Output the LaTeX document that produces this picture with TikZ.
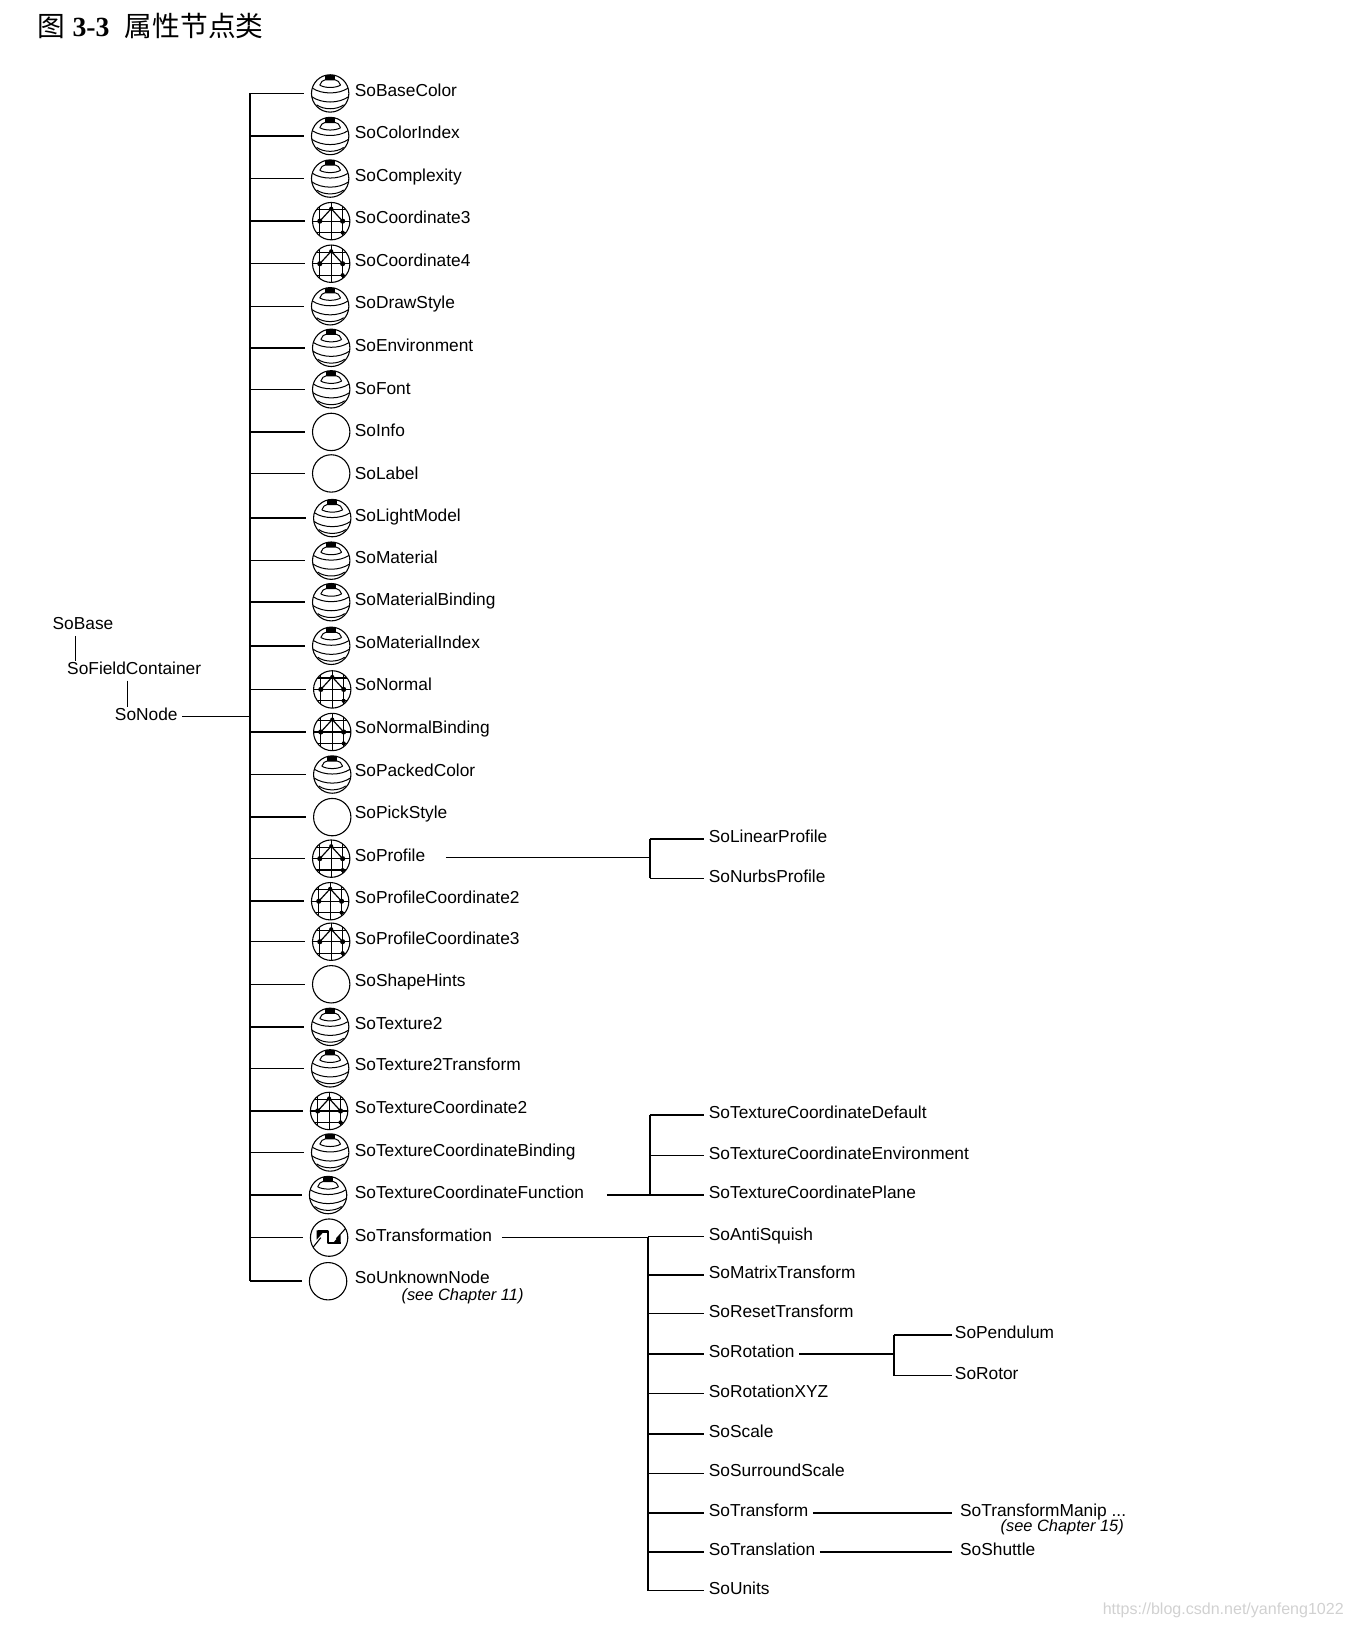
\documentclass[tikz,border=0pt]{standalone}
\usepackage{fontspec}
\setmainfont{Liberation Sans}
\newfontfamily\cjk{Noto Sans CJK SC}
\newfontfamily\titlefont{Liberation Serif}
\tikzset{
	classlabel/.style={inner sep=0pt,anchor=west,text height=7pt,text depth=3pt,font=\fontsize{9.5}{11}\selectfont},
	seenote/.style={inner sep=0pt,anchor=west,font=\fontsize{9}{11}\selectfont\itshape},
	iconball/.style={circle,draw,line width=0.6pt,minimum size=0.72cm,inner sep=0pt},
	emptyicon/.style={iconball},
	sphereicon/.style={iconball,path picture={
		\begin{scope}[shift={(path picture bounding box.center)},line width=0.55pt]
			\fill (-5,-18) rectangle (5,-13);
			\draw (-10,-8) .. controls (-9,-11) and (-7,-13) .. (-5,-13) -- (5,-13) .. controls (7,-13) and (9,-11) .. (10,-8);
			\draw (-10,-8) .. controls (-5,-5) and (5,-5) .. (10,-8);
			\draw (-17,-5) .. controls (-8,1) and (8,1) .. (17,-5);
			\draw (-18,3) .. controls (-8,10) and (8,10) .. (18,3);
			\draw (-13,11) .. controls (-6,16) and (6,16) .. (13,11);
		\end{scope}}},
	gridicon/.style={iconball,path picture={
		\begin{scope}[shift={(path picture bounding box.center)},line width=0.65pt]
			\foreach \g in {-11,0,11}{
				\draw (\g,-18) -- (\g,18);
				\draw (-18,\g) -- (18,\g);
			}
			\draw (-11,0) -- (0,-12) -- (11,0);
			\fill (0,-12) circle (2) (-11,0) circle (2.5) (11,0) circle (2.5) (11,11) circle (2);
		\end{scope}}},
	turnicon/.style={iconball,path picture={
		\begin{scope}[shift={(path picture bounding box.center)},line width=0.6pt]
			\draw (-16,10) -- (-8,0);
			\draw (16,-9) -- (7,1);
			\draw[line width=1.3pt] (-11,-6) -- (-1,-6) -- (-1,5) -- (11,5);
			\fill (-12,-7) -- (-4,-7) -- (-12,2) -- cycle;
			\fill (11,6) -- (3,6) -- (11,-3) -- cycle;
		\end{scope}}}
}
\begin{document}
\begin{tikzpicture}[x=0.02cm,y=-0.02cm,line join=round,line width=0.85pt]
	\useasboundingbox (0,0) rectangle (1303,1568);

	% 标题
	\node[inner sep=0pt,anchor=west,font=\fontsize{15.2}{18}\selectfont] (Title) at (35,25) {{\cjk 图} \textbf{\titlefont 3-3} \ {\cjk 属性节点类}};

	% 继承链
	\node[classlabel] (SoBase) at (50,603) {SoBase};
	\node[classlabel] (SoFieldContainer) at (64,646) {SoFieldContainer};
	\node[classlabel] (SoNode) at (110,690) {SoNode};
	\draw[line width=0.6pt] (SoBase.south -| 73,0) -- (SoFieldContainer.north -| 73,0);
	\draw[line width=0.6pt] (SoFieldContainer.south -| 123,0) -- (SoNode.north -| 123,0);

	% 主干
	\coordinate (T) at (241,690);
	\coordinate (TA) at (241,90);
	\coordinate (TB) at (241,1234);
	\draw (TA) -- (TB);
	\draw[shorten <=2pt] (SoNode.east) -- (T);

	% 属性节点
	\foreach \ix/\iy/\ly/\ik/\lb in {
		318/90/89/sphereicon/SoBaseColor,318/131/130/sphereicon/SoColorIndex,318/172/171/sphereicon/SoComplexity,
		319/213/212/gridicon/SoCoordinate3,319/254/253/gridicon/SoCoordinate4,318/295/294/sphereicon/SoDrawStyle,
		319/335/335/sphereicon/SoEnvironment,319/375/376/sphereicon/SoFont,319/416/417/emptyicon/SoInfo,
		319/456/458/emptyicon/SoLabel,320/499/499/sphereicon/SoLightModel,319/540/539/sphereicon/SoMaterial,
		319/580/580/sphereicon/SoMaterialBinding,319/622/621/sphereicon/SoMaterialIndex,320/664/662/gridicon/SoNormal,
		320/705/703/gridicon/SoNormalBinding,320/746/744/sphereicon/SoPackedColor,320/787/785/emptyicon/SoPickStyle,
		319/827/826/gridicon/SoProfile,318/868/867/gridicon/SoProfileCoordinate2,319/907/906/gridicon/SoProfileCoordinate3,
		319/948/947/emptyicon/SoShapeHints,318/989/988/sphereicon/SoTexture2,318/1029/1028/sphereicon/SoTexture2Transform,
		317/1070/1069/gridicon/SoTextureCoordinate2,318/1110/1110/sphereicon/SoTextureCoordinateBinding,
		316/1151/1151/sphereicon/SoTextureCoordinateFunction,317/1192/1192/turnicon/SoTransformation,316/1234/1233/emptyicon/SoUnknownNode}{
		\node[\ik] (icon\lb) at (\ix,\iy) {};
		\node[classlabel] (\lb) at (341,\ly) {\lb};
		\draw[shorten >=4pt] (T |- icon\lb) -- (icon\lb.west);
	}
	\node[seenote] (NoteA) at (386,1248) {(see Chapter 11)};

	% SoProfile 的子类
	\coordinate (PJ) at (626,826);
	\node[classlabel] (SoLinearProfile) at (682,808) {SoLinearProfile};
	\node[classlabel] (SoNurbsProfile) at (682,846) {SoNurbsProfile};
	\draw[shorten <=11pt] (SoProfile.east) -- (PJ |- SoProfile);
	\draw (PJ |- SoLinearProfile) -- (PJ |- SoNurbsProfile);
	\foreach \lb in {SoLinearProfile,SoNurbsProfile}
		\draw[shorten >=2pt] (PJ |- \lb) -- (\lb.west);

	% SoTextureCoordinateFunction 的子类
	\coordinate (FJ) at (626,1152);
	\foreach \ly/\lb in {1074/SoTextureCoordinateDefault,1113/SoTextureCoordinateEnvironment,1151/SoTextureCoordinatePlane}{
		\node[classlabel] (\lb) at (682,\ly) {\lb};
		\draw[shorten >=2pt] (FJ |- \lb) -- (\lb.west);
	}
	\draw[shorten <=12pt] (SoTextureCoordinateFunction.east) -- (FJ |- SoTextureCoordinateFunction);
	\draw (FJ |- SoTextureCoordinateDefault) -- (FJ |- SoTextureCoordinatePlane);

	% SoTransformation 的子类
	\coordinate (RJ) at (624,1191);
	\foreach \ly/\lb in {1191/SoAntiSquish,1228/SoMatrixTransform,1265/SoResetTransform,1304/SoRotation,1342/SoRotationXYZ,
		1381/SoScale,1419/SoSurroundScale,1457/SoTransform,1495/SoTranslation,1532/SoUnits}{
		\node[classlabel] (\lb) at (682,\ly) {\lb};
		\draw[shorten >=2pt] (RJ |- \lb) -- (\lb.west);
	}
	\draw[shorten <=5pt] (SoTransformation.east) -- (RJ |- SoTransformation);
	\draw (RJ |- SoAntiSquish) -- (RJ |- SoUnits);

	% SoRotation 的子类
	\coordinate (OJ) at (861,1304);
	\node[classlabel] (SoPendulum) at (919,1286) {SoPendulum};
	\node[classlabel] (SoRotor) at (919,1325) {SoRotor};
	\draw[shorten <=2pt] (SoRotation.east) -- (OJ |- SoRotation);
	\draw (OJ |- SoPendulum) -- (OJ |- SoRotor);
	\draw[shorten >=1pt] (OJ |- SoPendulum) -- (SoPendulum.west);
	\draw[shorten >=1pt] (OJ |- SoRotor) -- (SoRotor.west);

	% 单独的子类
	\node[classlabel] (SoTransformManip) at (924,1457) {SoTransformManip ...};
	\node[seenote] (NoteB) at (963,1471) {(see Chapter 15)};
	\node[classlabel] (SoShuttle) at (924,1495) {SoShuttle};
	\draw[shorten <=2pt,shorten >=4pt] (SoTransform.east) -- (SoTransformManip.west);
	\draw[shorten <=2pt,shorten >=4pt] (SoTranslation.east) -- (SoShuttle.west);

	% 水印
	\node[inner sep=0pt,anchor=east,text=black!18,font=\fontsize{8.8}{11}\selectfont] (Mark) at (1295,1551) {https://blog.csdn.net/yanfeng1022};
\end{tikzpicture}
\end{document}
